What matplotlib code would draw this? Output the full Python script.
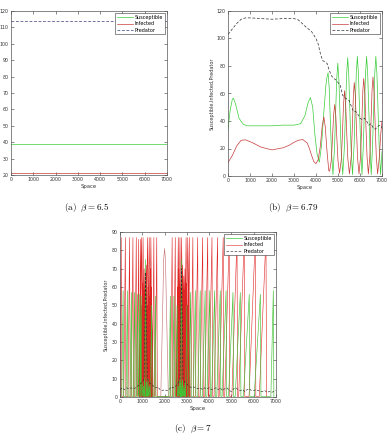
import matplotlib
matplotlib.use('Agg')
import matplotlib.pyplot as plt
from matplotlib import font_manager

available = {f.name for f in font_manager.fontManager.ttflist}
tick_family = ['Liberation Sans Narrow', 'DejaVu Sans'] if 'Liberation Sans Narrow' in available else ['DejaVu Sans']
plt.rcParams['font.family'] = tick_family
plt.rcParams['mathtext.fontset'] = 'cm'

# ---------------- data ----------------
space_ticks = [0, 1000, 2000, 3000, 4000, 5000, 6000, 7000]
legend_labels = ['Susceptible', 'Infected', 'Predator']
ylabel_text = 'Susceptible,Infected,Predator'
xlabel_text = 'Space'
captions = [r'$\mathrm{(a)}\ \ \beta = 6.5$', r'$\mathrm{(b)}\ \ \beta = 6.79$', r'$\mathrm{(c)}\ \ \beta = 7$']

# panel (a): homogeneous steady state
a_x = [0, 7000]
a_susceptible = [38.7, 38.7]
a_infected = [21.3, 21.3]
a_predator = [114.2, 114.2]

# panel (b)
b_sus_x = [0, 100, 200, 250, 350, 500, 700, 900, 1500, 2000, 2500, 3000, 3300, 3500, 3650, 3750, 3850, 3950, 4050, 4150,
           4250, 4350, 4450, 4500, 4550, 4600, 4650, 4700, 4770,
           4840, 4890, 4940, 4990, 5040, 5090, 5140, 5215,
           5290, 5340, 5390, 5440, 5490, 5540, 5590, 5660,
           5730, 5780, 5830, 5880, 5930, 5980, 6030, 6090,
           6150, 6200, 6250, 6300, 6350, 6400, 6450, 6510,
           6570, 6620, 6670, 6720, 6770, 6820, 6870, 6935, 7000]
b_sus_y = [33.5, 48, 56, 56.5, 52, 42, 37.5, 36.5, 36.5, 36.5, 37, 37, 38, 44, 54, 57, 50, 30, 16, 10,
           22, 45, 66, 72, 75, 64, 41, 19, 1,
           20, 45, 70, 82, 70, 45, 20, 1,
           21, 47, 73, 86, 73, 47, 21, 1,
           22, 48, 74, 87, 74, 48, 22, 1,
           22, 48, 74, 87, 74, 48, 22, 1,
           22, 48, 74, 87, 74, 48, 22, 1, 18]
b_inf_x = [0, 200, 400, 600, 800, 1000, 1200, 1500, 2000, 2500, 2800, 3000, 3200, 3400, 3600, 3700, 3800, 3900, 4000,
           4100, 4200, 4280, 4356, 4420, 4500, 4580, 4620,
           4700, 4750, 4800, 4850, 4900, 4950, 5000, 5070,
           5150, 5200, 5250, 5300, 5350, 5400, 5450, 5520,
           5600, 5650, 5700, 5740, 5790, 5840, 5890, 5955,
           6030, 6080, 6130, 6170, 6220, 6270, 6320, 6380,
           6450, 6500, 6550, 6590, 6640, 6690, 6740, 6800,
           6880, 6940, 7000]
b_inf_y = [9.7, 15, 22, 26, 26.3, 25, 23.5, 21, 19, 20.5, 22.5, 24.5, 26, 26.5, 24, 20, 15, 10.5, 9,
           12, 22, 36, 43, 36, 18, 4, 3.5,
           12, 28, 44, 52, 44, 27, 11, 2,
           12, 30, 52, 62, 52, 30, 12, 1.5,
           14, 35, 59, 68, 58, 34, 13, 1.5,
           15, 38, 62, 71, 60, 36, 14, 1.5,
           15, 39, 63, 72, 61, 37, 14, 1.5,
           14, 30, 40]
b_pred_x = [0, 200, 400, 600, 800, 1000, 1500, 2000, 2500, 3000, 3200, 3500, 3800, 4000,
            4100, 4200, 4300, 4400, 4500, 4600, 4700, 4800, 4900, 5000,
            5100, 5200, 5300, 5400, 5500, 5600, 5700, 5800, 5900, 6000,
            6100, 6200, 6300, 6400, 6500, 6600, 6700, 6800, 6900, 7000]
b_pred_y = [103, 107, 111, 114, 115, 115, 114.5, 114, 114.5, 114.5, 113.5, 109, 105, 100,
            96, 89, 84, 83, 82, 77, 73, 71, 70, 68,
            66, 59, 57, 56, 55, 51, 47, 47, 45, 42,
            41, 42, 40, 37, 38, 35, 34, 36, 37, 35]

# panel (c): spikes (peak position, peak height, rise width, fall width)
c_base = 0.3
c_inf_peak_x = [55, 240, 430, 580, 730, 840, 930,
                960, 985, 1010, 1035, 1060, 1085, 1110, 1135, 1160, 1185, 1210, 1235, 1260, 1285, 1310, 1335, 1360, 1385, 1410,
                1520, 1650, 2340, 2480,
                2590, 2615, 2640, 2665, 2690, 2715, 2740, 2765, 2790, 2815, 2840, 2865, 2890, 2915, 2940, 2965, 2990, 3015, 3040,
                3110, 3270, 3487, 3711, 3936, 4128, 4380, 4631, 4900, 5250, 5575, 6070, 6550]
c_inf_peak_y = [87, 87, 87, 87, 87, 86, 86,
                87, 50, 62, 87, 45, 70, 58, 66, 40, 72, 50, 87, 60, 48, 87, 55, 70, 87, 60,
                87, 87, 87, 87,
                60, 87, 70, 55, 87, 48, 60, 87, 50, 72, 40, 66, 58, 70, 45, 87, 62, 50, 87,
                87, 87, 87, 87, 87, 87, 87, 87, 87, 87, 87, 87, 87]
c_inf_rise = [45, 70, 70, 70, 70, 60, 60,
              80, 80, 80, 80, 80, 80, 80, 80, 80, 80, 80, 80, 80, 80, 80, 80, 80, 80, 80,
              70, 70, 70, 70,
              80, 80, 80, 80, 80, 80, 80, 80, 80, 80, 80, 80, 80, 80, 80, 80, 80, 80, 80,
              80, 90, 110, 120, 130, 140, 160, 180, 200, 230, 250, 280, 300]
c_inf_fall = [25] * 7 + [80] * 19 + [25] * 4 + [80] * 19 + [25] * 13
c_sus_peak_x = [140, 330, 510, 655, 790, 890, 950,
                1000, 1060, 1110, 1150, 1200, 1260, 1320, 1420,
                1590, 2260, 2420, 2560,
                2620, 2680, 2730, 2760, 2800, 2860, 2920, 3000,
                3170, 3380, 3600, 3820, 4030, 4250, 4500, 4760, 5070, 5400, 5800, 6300, 6880]
c_sus_peak_y = [58, 58, 57, 57, 56, 56, 55,
                8, 6, 9, 75, 8, 10, 6, 50,
                55, 55, 55, 50,
                6, 10, 8, 75, 9, 6, 8, 50,
                57, 58, 58, 58, 58, 58, 58, 58, 57, 57, 56, 56, 58]
c_sus_rise = [60, 60, 60, 60, 60, 60, 60,
              25, 25, 25, 50, 25, 25, 25, 60,
              60, 60, 60, 60,
              25, 25, 25, 50, 25, 25, 25, 60,
              80, 90, 110, 120, 130, 140, 160, 180, 200, 230, 260, 280, 110]
c_sus_fall = [25] * 7 + [25] * 8 + [25] * 4 + [25] * 8 + [25] * 13
c_hump_x = [1830, 1900, 1960, 2000, 2040, 2100, 2170]
c_hump_y = [0.3, 40, 75, 81, 75, 40, 0.3]
c_pred_x = [0, 100, 200, 300, 400, 500, 600, 700, 800, 900, 1000, 1080, 1150, 1220,
            1300, 1400, 1500, 1600, 1700, 1800, 1900, 2000, 2100, 2200, 2300, 2400, 2500, 2600,
            2690, 2760, 2830,
            2900, 3000, 3100, 3200, 3300, 3400, 3500, 3600, 3700, 3800, 3900, 4000, 4100, 4200,
            4300, 4400, 4500, 4600, 4700, 4800, 4900, 5000, 5100, 5200, 5300, 5400, 5500, 5600,
            5700, 5800, 5900, 6000, 6100, 6200, 6300, 6400, 6500, 6600, 6700, 6800, 6900, 7000]
c_pred_y = [4, 5, 4, 5, 4.5, 5, 4.5, 5, 6, 7, 8, 10, 68, 10,
            8, 7, 6, 5, 5.5, 4, 3.5, 4, 3.5, 4, 5.5, 5, 6, 7,
            10, 70, 10,
            8, 7, 6, 5, 5.5, 5, 4.5, 5, 4, 5, 4.5, 5, 4, 4.5,
            5, 4, 5, 3.5, 4.5, 5, 3.5, 3, 4.5, 5, 4, 3.5, 4, 3,
            4, 4.5, 3.5, 3.5, 4, 3.5, 3, 3, 3.5, 2.5, 3, 2.5, 3, 3.5]

# ---------------- style ----------------
GREEN = '#3acc3a'
RED = '#c83a3a'
C_GREEN = '#44c036'
C_RED = '#e02424'
PRED_A = '#3a3a78'
PRED = '#303030'
W, H = 389, 445
fig = plt.figure(figsize=(W / 100, H / 100), dpi=100)


def ax_at(l, t, r, b):
    return fig.add_axes([l / W, 1 - b / H, (r - l) / W, (b - t) / H])


def spikes(px, py, rise, fall):
    xs, ys = [], []
    for x, y, r, f in zip(px, py, rise, fall):
        xs += [x - r, x, x + f]
        ys += [c_base, y, c_base]
    return xs, ys


def add_legend(ax, handles=None):
    kw = dict(loc='upper right', fontsize=3.5, handlelength=3.2, handletextpad=0.4,
              borderpad=0.35, labelspacing=0.25, fancybox=False, framealpha=1,
              borderaxespad=0.5, edgecolor='#333333')
    leg = ax.legend(handles, legend_labels, **kw) if handles else ax.legend(**kw)
    leg.get_frame().set_linewidth(0.4)


def style(ax, ylim, yticks, ylabel=True):
    ax.set_xlim(0, 7000)
    ax.set_ylim(*ylim)
    ax.set_xticks(space_ticks)
    ax.set_yticks(yticks)
    ax.tick_params(direction='in', length=2, width=0.4, labelsize=3.4, pad=1.5,
                   top=True, right=True, colors='#333333')
    for s in ax.spines.values():
        s.set_linewidth(0.5)
        s.set_color('#555555')
    ax.set_xlabel(xlabel_text, fontsize=3.8, labelpad=1.5, color='#333333')
    if ylabel:
        ax.set_ylabel(ylabel_text, fontsize=3.5, labelpad=2, color='#333333')


# (a)
ax = ax_at(11, 11, 167, 175)
ax.plot(a_x, a_susceptible, color=GREEN, lw=0.5, label=legend_labels[0])
ax.plot(a_x, a_infected, color=RED, lw=0.5, label=legend_labels[1])
ax.plot(a_x, a_predator, color=PRED_A, lw=0.5, ls=(0, (4, 2.5)), label=legend_labels[2])
style(ax, (20, 120), list(range(20, 121, 10)), ylabel=False)
add_legend(ax)

# (b)
ax = ax_at(228, 11, 382, 176)
ax.plot(b_sus_x, b_sus_y, color=GREEN, lw=0.5, label=legend_labels[0])
ax.plot(b_inf_x, b_inf_y, color=RED, lw=0.5, label=legend_labels[1])
ax.plot(b_pred_x, b_pred_y, color=PRED, lw=0.5, ls=(0, (4, 2.5)), label=legend_labels[2])
style(ax, (0, 120), list(range(0, 121, 20)))
add_legend(ax)

# (c)
ax = ax_at(120, 232, 276, 397)
sx, sy = spikes(c_sus_peak_x, c_sus_peak_y, c_sus_rise, c_sus_fall)
ix, iy = spikes(c_inf_peak_x, c_inf_peak_y, c_inf_rise, c_inf_fall)
h_inf, = ax.plot(ix, iy, color=C_RED, lw=0.4, zorder=2)
ax.plot(sx, sy, color=C_GREEN, lw=0.45, zorder=2.1)
ax.plot(c_hump_x, c_hump_y, color='#c87878', lw=0.45)
h_pred, = ax.plot(c_pred_x, c_pred_y, color=PRED, lw=0.45, ls=(0, (4, 2.5)), zorder=3)
h_sus, = ax.plot([], [], color=GREEN, lw=0.5)
style(ax, (0, 90), list(range(0, 91, 10)))
add_legend(ax, [h_sus, h_inf, h_pred])

# captions
fig.text(87 / W, 1 - 208 / H, captions[0], fontsize=6.5, ha='center', va='center')
fig.text(293 / W, 1 - 208 / H, captions[1], fontsize=6.5, ha='center', va='center')
fig.text(193 / W, 1 - 429 / H, captions[2], fontsize=6.5, ha='center', va='center')

fig.savefig('out.png', dpi=100)
